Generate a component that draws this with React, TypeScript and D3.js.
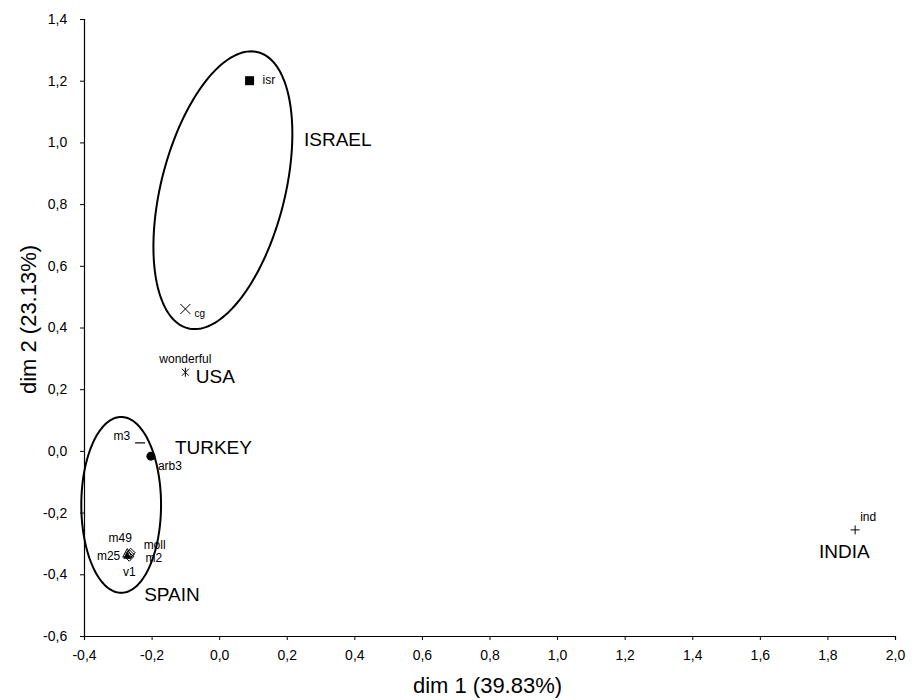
import * as d3 from "d3";
import { useRef, useEffect } from "react";

// tick values
const xTicks = [-0.4, -0.2, 0.0, 0.2, 0.4, 0.6, 0.8, 1.0, 1.2, 1.4, 1.6, 1.8, 2.0];
const yTicks = [-0.6, -0.4, -0.2, 0.0, 0.2, 0.4, 0.6, 0.8, 1.0, 1.2, 1.4];

// samples (dim1, dim2)
const names = ["isr", "cg", "wonderful", "ind", "arb3", "m3", "m49", "m25", "v1", "moll", "m2"];
const dim1 = [0.09, -0.1, -0.1, 1.882, -0.202, -0.234, -0.272, -0.272, -0.266, -0.262, -0.265];
const dim2 = [1.2, 0.46, 0.255, -0.256, -0.017, 0.026, -0.333, -0.34, -0.343, -0.33, -0.336];
const shapes = ["square", "x", "star", "plus", "circle", "dash", "tri", "trifill", "diamond", "diamond", "diamond"];

// group labels
const groups = ["ISRAEL", "USA", "TURKEY", "SPAIN", "INDIA"];
const groupX = [0.251, -0.069, -0.131, -0.222, 1.775];
const groupY = [1.011, 0.243, 0.013, -0.464, -0.324];

// confidence ellipses: centre, half-axis vectors in data units
const ellipseNames = ["israel", "spain"];
const ellCx = [0.011, -0.29];
const ellCy = [0.845, -0.175];
const ellAx = [0.1035, 0.0];
const ellAy = [0.4475, 0.285];
const ellBx = [0.1776, 0.118];
const ellBy = [-0.0493, 0.0];

export default function App() {
  const ref = useRef<SVGSVGElement>(null);

  useEffect(() => {
    const width = 920;
    const height = 700;
    const left = 84, right = 895, top = 19, bottom = 636;

    const svg = d3.select(ref.current);
    svg.selectAll("*").remove();
    svg.attr("width", width).attr("height", height);

    const x = d3.scaleLinear().domain([-0.4, 2.0]).range([left, right]);
    const y = d3.scaleLinear().domain([-0.6, 1.4]).range([bottom, top]);

    const loc = d3.formatLocale({ decimal: ",", thousands: ".", grouping: [3], currency: ["", ""], minus: "-" });
    const fmt = loc.format(".1f");
    const font = "Liberation Sans, Arial, sans-serif";

    const xAxis = svg.append("g")
      .attr("transform", `translate(0,${bottom})`)
      .call(d3.axisBottom(x).tickValues(xTicks).tickFormat(fmt).tickSize(4).tickSizeOuter(4));
    xAxis.selectAll("text").attr("dy", "1.2em").style("font-size", "14px");

    const yAxis = svg.append("g")
      .attr("transform", `translate(${left},0)`)
      .call(d3.axisLeft(y).tickValues(yTicks).tickFormat(fmt).tickSize(4).tickSizeOuter(4));
    yAxis.selectAll("text").attr("dx", "-0.7em").style("font-size", "14px");

    svg.selectAll(".domain").attr("stroke", "#000").attr("stroke-width", 1.2);
    svg.selectAll(".tick line").attr("stroke", "#000");
    svg.selectAll(".tick text").attr("fill", "#000").style("font-family", font);

    svg.append("text")
      .attr("x", (left + right) / 2 - 2).attr("y", 693)
      .attr("text-anchor", "middle")
      .style("font-family", font).style("font-size", "22px")
      .text("dim 1 (39.83%)");

    svg.append("text")
      .attr("transform", `translate(36,${(top + bottom) / 2 - 8}) rotate(-90)`)
      .attr("text-anchor", "middle")
      .style("font-family", font).style("font-size", "22px")
      .text("dim 2 (23.13%)");

    // ellipses
    ellipseNames.forEach((_, i) => {
      const ts = d3.range(0, 2 * Math.PI, Math.PI / 90);
      const pts: [number, number][] = ts.map(t => [
        x(ellCx[i] + ellAx[i] * Math.cos(t) + ellBx[i] * Math.sin(t)),
        y(ellCy[i] + ellAy[i] * Math.cos(t) + ellBy[i] * Math.sin(t)),
      ]);
      svg.append("path")
        .attr("d", d3.line().curve(d3.curveLinearClosed)(pts))
        .attr("fill", "none")
        .attr("stroke", "#000")
        .attr("stroke-width", 2);
    });

    // points
    const pg = svg.append("g");
    names.forEach((n, i) => {
      const px = x(dim1[i]);
      const py = y(dim2[i]);
      const s = shapes[i];
      const g = pg.append("g").attr("transform", `translate(${px},${py})`);
      if (s === "square") {
        g.append("rect").attr("x", -4.5).attr("y", -4.5).attr("width", 9).attr("height", 9).attr("fill", "#000");
      } else if (s === "x") {
        g.append("path").attr("d", "M-5,-5L5,5M-5,5L5,-5").attr("stroke", "#000").attr("stroke-width", 1);
      } else if (s === "star") {
        g.append("path").attr("d", "M-3.5,-3.5L3.5,3.5M-3.5,3.5L3.5,-3.5M0,-4.5L0,4.5").attr("stroke", "#000").attr("stroke-width", 1);
      } else if (s === "plus") {
        g.append("path").attr("d", "M-4.5,0L4.5,0M0,-4.5L0,4.5").attr("stroke", "#000").attr("stroke-width", 1);
      } else if (s === "circle") {
        g.append("circle").attr("r", 4.5).attr("fill", "#000");
      } else if (s === "dash") {
        g.append("path").attr("d", "M-5,0L5,0").attr("stroke", "#000").attr("stroke-width", 1.2);
      } else if (s === "tri") {
        g.append("path").attr("d", "M0,-5L4.5,3.5L-4.5,3.5Z").attr("fill", "#fff").attr("stroke", "#000");
      } else if (s === "trifill") {
        g.append("path").attr("d", "M0,-4L4,3L-4,3Z").attr("fill", "#000");
      } else if (s === "diamond") {
        g.append("path").attr("d", "M0,-4.5L4.5,0L0,4.5L-4.5,0Z").attr("fill", "none").attr("stroke", "#000");
      }
    });

    // small point labels (offsets in px)
    const lblDx: Record<string, number> = { isr: 13, cg: 9, wonderful: 0, ind: 5, arb3: 7, m3: -10, m49: -7, m25: -7, v1: 0, moll: 13, m2: 16 };
    const lblDy: Record<string, number> = { isr: 3, cg: 8, wonderful: -9, ind: -9, arb3: 14, m3: -3, m49: -12, m25: 4, v1: 19, moll: -4, m2: 7 };
    const lblAnchor: Record<string, string> = { wonderful: "middle", m3: "end", m49: "middle", m25: "end", v1: "middle" };
    names.forEach((n, i) => {
      svg.append("text")
        .attr("x", x(dim1[i]) + lblDx[n])
        .attr("y", y(dim2[i]) + lblDy[n])
        .attr("text-anchor", lblAnchor[n] || "start")
        .style("font-family", font)
        .style("font-size", n === "cg" ? "10px" : "12px")
        .text(n);
    });

    // group labels
    groups.forEach((gname, i) => {
      svg.append("text")
        .attr("x", x(groupX[i]))
        .attr("y", y(groupY[i]))
        .attr("dy", "0.35em")
        .style("font-family", font)
        .style("font-size", "19px")
        .text(gname);
    });
  }, []);

  return <svg ref={ref} style={{ position: "absolute", left: 0, top: 0, background: "#fff" }}></svg>;
}
